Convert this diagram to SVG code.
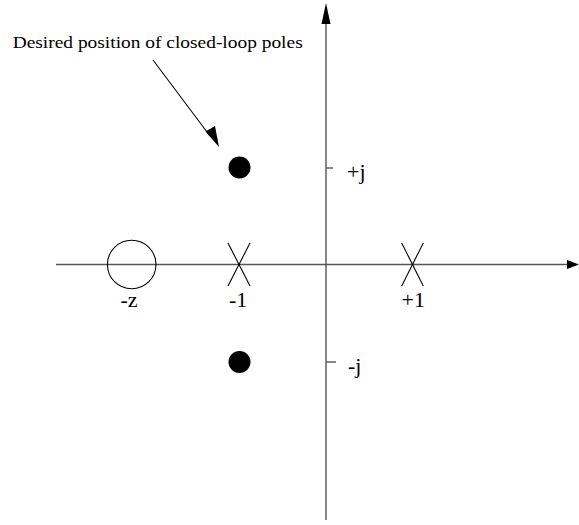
<svg xmlns="http://www.w3.org/2000/svg" width="579" height="525" viewBox="0 0 579 525">
<style>
.axis{stroke:#555;stroke-width:1.4;fill:none}
.pole{stroke:#000;stroke-width:1.1;fill:none}
</style>
<rect width="579" height="525" fill="#fff"/>
<g id="axes">
<line class="axis" x1="56" y1="264.5" x2="570" y2="264.5"/>
<polygon points="579,264.5 567,260 567,269" fill="#000"/>
<line class="axis" x1="326" y1="520" x2="326" y2="20"/>
<polygon points="326,3 321.5,24 330.5,24" fill="#000"/>
<line class="axis" x1="326" y1="168" x2="333" y2="168"/>
<line class="axis" x1="326" y1="362" x2="336" y2="362"/>
</g>
<g id="labels" font-family="Liberation Serif, Times New Roman, serif" font-size="22" fill="#000">
<text x="347" y="179">+j</text>
<text x="348" y="373">-j</text>
<text x="120.5" y="307">-z</text>
<text x="229" y="307">-1</text>
<text x="401.5" y="307">+1</text>
</g>
<g id="zero">
<circle class="pole" cx="131.7" cy="264.5" r="24.3"/>
</g>
<g id="pole-m1">
<line class="pole" x1="228" y1="243" x2="250" y2="286"/>
<line class="pole" x1="250" y1="243" x2="228" y2="286"/>
</g>
<g id="pole-p1">
<line class="pole" x1="401.7" y1="243" x2="423.3" y2="286"/>
<line class="pole" x1="423.3" y1="243" x2="401.7" y2="286"/>
</g>
<g id="cl-upper"><circle cx="239.5" cy="167.5" r="11" fill="#000"/></g>
<g id="cl-lower"><circle cx="239.5" cy="362" r="11" fill="#000"/></g>
<g id="annotation">
<text x="12.7" y="48" font-family="Liberation Serif, Times New Roman, serif" font-size="17" textLength="290" lengthAdjust="spacingAndGlyphs">Desired position of closed-loop poles</text>
</g>
<g id="connectors">
<line x1="153" y1="60" x2="210" y2="136" stroke="#000" stroke-width="1.1"/>
<polygon points="219,147 205.5,131.5 215,126" fill="#000"/>
</g>
</svg>
